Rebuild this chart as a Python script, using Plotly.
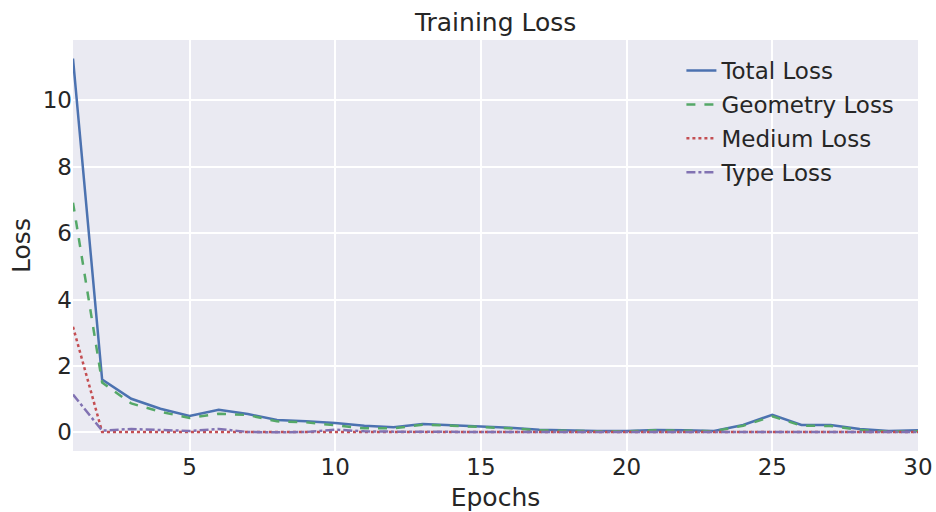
import plotly.graph_objects as go

epochs = list(range(1, 31))

total_loss = [11.26, 1.59, 1.01, 0.71, 0.49, 0.68, 0.55, 0.37, 0.33, 0.28,
              0.20, 0.15, 0.25, 0.22, 0.18, 0.14, 0.08, 0.05, 0.04, 0.04,
              0.07, 0.06, 0.04, 0.22, 0.53, 0.22, 0.22, 0.10, 0.04, 0.06]
geometry_loss = [6.92, 1.50, 0.87, 0.62, 0.43, 0.56, 0.52, 0.33, 0.30, 0.20,
                 0.12, 0.12, 0.23, 0.20, 0.17, 0.12, 0.06, 0.04, 0.03, 0.03,
                 0.06, 0.05, 0.03, 0.20, 0.48, 0.20, 0.19, 0.07, 0.02, 0.03]
medium_loss = [3.18, 0.01, 0.01, 0.01, 0.01, 0.01, 0.01, 0.01, 0.01, 0.01,
               0.01, 0.01, 0.01, 0.01, 0.01, 0.01, 0.01, 0.01, 0.01, 0.01,
               0.01, 0.01, 0.01, 0.01, 0.01, 0.01, 0.01, 0.01, 0.01, 0.01]
type_loss = [1.14, 0.05, 0.10, 0.06, 0.04, 0.10, 0.01, 0.00, 0.01, 0.08,
             0.03, 0.02, 0.01, 0.01, 0.01, 0.01, 0.01, 0.01, 0.01, 0.01,
             0.01, 0.01, 0.01, 0.01, 0.03, 0.01, 0.01, 0.01, 0.01, 0.01]

series = [
    ('Total Loss', total_loss, '#4C72B0', 'solid'),
    ('Geometry Loss', geometry_loss, '#55A868', 'dash'),
    ('Medium Loss', medium_loss, '#C44E52', 'dot'),
    ('Type Loss', type_loss, '#8172B2', 'dashdot'),
]

fig = go.Figure()
for name, values, color, dash in series:
    fig.add_trace(go.Scatter(
        x=epochs, y=values, mode='lines', name=name, legendgroup=name,
        line=dict(color=color, width=2.5, dash=dash),
    ))

font = 'DejaVu Sans'
fig.update_layout(
    width=936, height=512,
    margin=dict(l=73, r=18, t=40, b=61),
    paper_bgcolor='white',
    plot_bgcolor='#EAEAF2',
    font=dict(family=font, color='#262626', size=24),
    title=dict(text='Training Loss', x=0.5295, xanchor='center', y=0.957, yanchor='middle',
               font=dict(size=25, color='#262626')),
    legend=dict(x=0.978, xanchor='right', y=0.978, yanchor='top',
                bgcolor='rgba(0,0,0,0)', font=dict(size=23),
                tracegroupgap=1),
    showlegend=True,
)
fig.update_xaxes(
    range=[1, 30], tickvals=[5, 10, 15, 20, 25, 30],
    showgrid=True, gridcolor='white', gridwidth=1.5, zeroline=False,
    showline=False, ticks='', tickfont=dict(size=23), automargin=False,
    title=dict(text='Epochs', font=dict(size=25)),
)
fig.update_yaxes(
    range=[-0.563, 11.82], tickvals=[0, 2, 4, 6, 8, 10],
    showgrid=True, gridcolor='white', gridwidth=1.5, zeroline=False,
    showline=False, ticks='', tickfont=dict(size=23), automargin=True,
    title=dict(text='Loss', font=dict(size=25), standoff=4),
)

# drop the default 8px page margin so the figure sits at the window origin
fig.write_html('out.html', config={'displayModeBar': False},
               post_script="document.body.style.margin='0';")
